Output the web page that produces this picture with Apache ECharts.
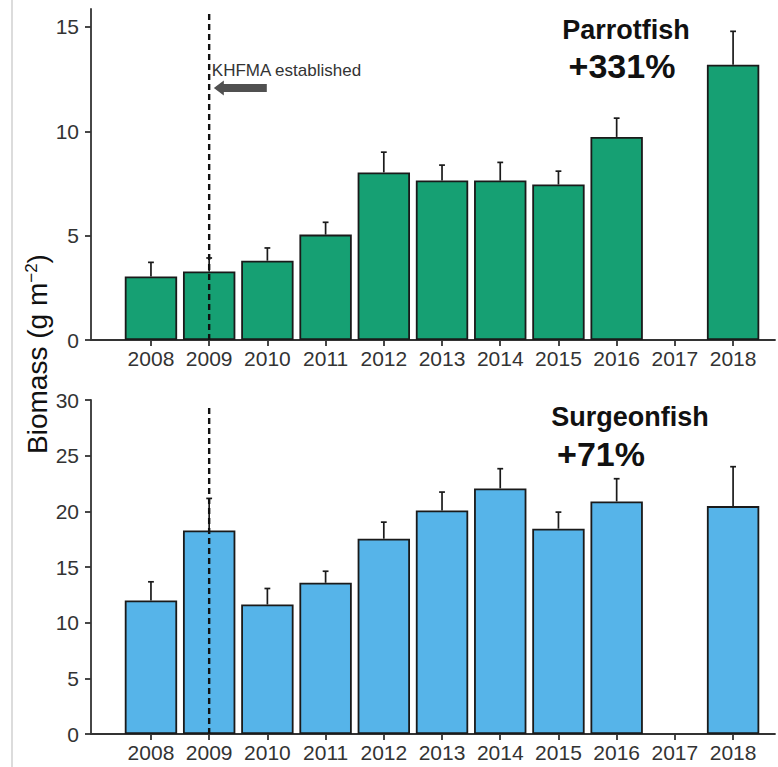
<!DOCTYPE html>
<html>
<head>
<meta charset="utf-8">
<script src="https://cdn.jsdelivr.net/npm/echarts@6/dist/echarts.min.js"></script>
<style>
  html, body { margin: 0; padding: 0; background: #ffffff; }
  #chart { width: 778px; height: 767px; }
</style>
</head>
<body>
<div id="chart"></div>
<script>
// Survey years (2017 was not surveyed)
const years = [2008, 2009, 2010, 2011, 2012, 2013, 2014, 2015, 2016, 2017, 2018];

// Parrotfish biomass (g m^-2): mean and mean + SE
const parrotMean  = [3.04, 3.28, 3.80, 5.05, 8.03, 7.64, 7.64, 7.45, 9.73, null, 13.19];
const parrotUpper = [3.72, 3.93, 4.41, 5.64, 9.00, 8.38, 8.51, 8.09, 10.63, null, 14.79];

// Surgeonfish biomass (g m^-2): mean and mean + SE
const surgeonMean  = [11.99, 18.28, 11.63, 13.58, 17.54, 20.08, 22.06, 18.44, 20.89, null, 20.47];
const surgeonUpper = [13.67, 21.16, 13.07, 14.62, 19.03, 21.73, 23.83, 19.93, 22.93, null, 24.01];

// Axis tick labels
const parrotTicks  = [0, 5, 10, 15];
const surgeonTicks = [0, 5, 10, 15, 20, 25, 30];
const yearTicks = years;

// Management annotation
const managementYear = 2009;
const managementLabel = 'KHFMA established';
const parrotVlineTop = 15.72;
const surgeonVlineTop = 29.43;
const arrowTip = [2009.08, 12.07];
const arrowTailX = 2009.99;

const FONT = 'Liberation Sans, Arial, Helvetica, sans-serif';
const INK = '#1a1a1a';
const AXIS = '#333333';
const GREEN = '#16a073';
const BLUE = '#56b4e9';

const barPairs = (vals) => years.map((y, i) => [y, vals[i]]);
const errPairs = (mean, upper) =>
  years.map((y, i) => [y, mean[i], upper[i]]).filter(d => d[1] != null);

function renderErrorBar(params, api) {
  const x = api.value(0);
  const lo = api.coord([x, api.value(1)]);
  const hi = api.coord([x, api.value(2)]);
  const half = api.size([0.1, 0])[0] / 2;
  const style = { stroke: INK, lineWidth: 1.7 };
  return {
    type: 'group',
    children: [
      { type: 'line', shape: { x1: lo[0], y1: lo[1], x2: hi[0], y2: hi[1] }, style },
      { type: 'line', shape: { x1: hi[0] - half, y1: hi[1], x2: hi[0] + half, y2: hi[1] }, style }
    ]
  };
}

function renderVline(params, api) {
  const x = api.value(0);
  const a = api.coord([x, api.value(1)]);
  const b = api.coord([x, api.value(2)]);
  return {
    type: 'line',
    shape: { x1: a[0], y1: a[1], x2: b[0], y2: b[1] },
    style: { stroke: '#111111', lineWidth: 2.4, lineDash: [6, 4] }
  };
}

// Left-pointing arrow with its label just above
function renderArrow(params, api) {
  const tip = api.coord([api.value(0), api.value(1)]);
  const tail = api.coord([api.value(2), api.value(1)]);
  const headLen = 10, headHalf = 7.5, shaftHalf = 4;
  const y = tip[1];
  const pts = [
    [tip[0], y],
    [tip[0] + headLen, y - headHalf],
    [tip[0] + headLen, y - shaftHalf],
    [tail[0], y - shaftHalf],
    [tail[0], y + shaftHalf],
    [tip[0] + headLen, y + shaftHalf],
    [tip[0] + headLen, y + headHalf]
  ];
  return {
    type: 'group',
    children: [
      { type: 'polygon', shape: { points: pts }, style: { fill: '#505050' } },
      {
        type: 'text', x: tip[0] - 2, y: y - 18,
        style: {
          text: managementLabel, fill: '#333333',
          font: '17px ' + FONT, textAlign: 'left', textVerticalAlign: 'middle'
        }
      }
    ]
  };
}

function xAxisFor(gridIndex) {
  return {
    type: 'value', gridIndex, min: 2006.97, max: 2018.72,
    splitLine: { show: false },
    axisLine: { show: true, onZero: false, lineStyle: { color: AXIS, width: 1.8 } },
    axisTick: { show: true, length: 6, customValues: yearTicks, lineStyle: { color: AXIS, width: 1.8 } },
    axisLabel: {
      customValues: yearTicks, margin: 8, color: '#333333',
      fontFamily: FONT, fontSize: 21, formatter: v => String(v)
    }
  };
}

function yAxisFor(gridIndex, max, ticks) {
  return {
    type: 'value', gridIndex, min: 0, max,
    splitLine: { show: false },
    axisLine: { show: true, onZero: false, lineStyle: { color: AXIS, width: 1.8 } },
    axisTick: { show: true, length: 6, customValues: ticks, lineStyle: { color: AXIS, width: 1.8 } },
    axisLabel: {
      customValues: ticks, margin: 12, color: '#333333',
      fontFamily: FONT, fontSize: 21
    }
  };
}

function panelText(x, y, text, size) {
  return {
    type: 'text', x, y,
    style: {
      text, fill: '#111111', font: 'bold ' + size + 'px ' + FONT,
      textAlign: 'center', textVerticalAlign: 'middle'
    }
  };
}

const chart = echarts.init(document.getElementById('chart'), null, { renderer: 'svg' });

chart.setOption({
  backgroundColor: '#ffffff',
  animation: false,
  grid: [
    { left: 91, right: 3, top: 9, bottom: 427 },
    { left: 91, right: 3, top: 400, bottom: 33 }
  ],
  xAxis: [xAxisFor(0), xAxisFor(1)],
  yAxis: [yAxisFor(0, 15.86, parrotTicks), yAxisFor(1, 30, surgeonTicks)],
  series: [
    {
      name: 'Parrotfish', type: 'bar', xAxisIndex: 0, yAxisIndex: 0,
      data: barPairs(parrotMean), barWidth: '90%',
      itemStyle: { color: GREEN, borderColor: INK, borderWidth: 1.8 }, z: 2
    },
    {
      type: 'custom', xAxisIndex: 0, yAxisIndex: 0,
      data: errPairs(parrotMean, parrotUpper), renderItem: renderErrorBar,
      encode: { x: 0, y: [1, 2] }, z: 3, silent: true
    },
    {
      type: 'custom', xAxisIndex: 0, yAxisIndex: 0,
      data: [[managementYear, 0, parrotVlineTop]], renderItem: renderVline,
      encode: { x: 0, y: [1, 2] }, z: 4, silent: true
    },
    {
      type: 'custom', xAxisIndex: 0, yAxisIndex: 0,
      data: [[arrowTip[0], arrowTip[1], arrowTailX]], renderItem: renderArrow,
      encode: { x: [0, 2], y: 1 }, z: 5, silent: true
    },
    {
      name: 'Surgeonfish', type: 'bar', xAxisIndex: 1, yAxisIndex: 1,
      data: barPairs(surgeonMean), barWidth: '90%',
      itemStyle: { color: BLUE, borderColor: INK, borderWidth: 1.8 }, z: 2
    },
    {
      type: 'custom', xAxisIndex: 1, yAxisIndex: 1,
      data: errPairs(surgeonMean, surgeonUpper), renderItem: renderErrorBar,
      encode: { x: 0, y: [1, 2] }, z: 3, silent: true
    },
    {
      type: 'custom', xAxisIndex: 1, yAxisIndex: 1,
      data: [[managementYear, 0, surgeonVlineTop]], renderItem: renderVline,
      encode: { x: 0, y: [1, 2] }, z: 4, silent: true
    }
  ],
  graphic: [
    {
      type: 'line', shape: { x1: 12, y1: 0, x2: 12, y2: 767 },
      style: { stroke: '#dcdcdc', lineWidth: 2 }, silent: true
    },
    {
      type: 'text', x: 37, y: 354, rotation: Math.PI / 2,
      style: {
        text: 'Biomass (g m{sup|\u22122})',
        fill: '#111111', font: '28px ' + FONT,
        textAlign: 'center', textVerticalAlign: 'middle',
        rich: { sup: { fontSize: 17, fontFamily: FONT, fill: '#111111', verticalAlign: 'top', lineHeight: 17 } }
      }
    },
    panelText(626, 30, 'Parrotfish', 27),
    panelText(622, 66, '+331%', 34),
    panelText(630, 417, 'Surgeonfish', 27),
    panelText(601, 454, '+71%', 34)
  ]
});
</script>
</body>
</html>
